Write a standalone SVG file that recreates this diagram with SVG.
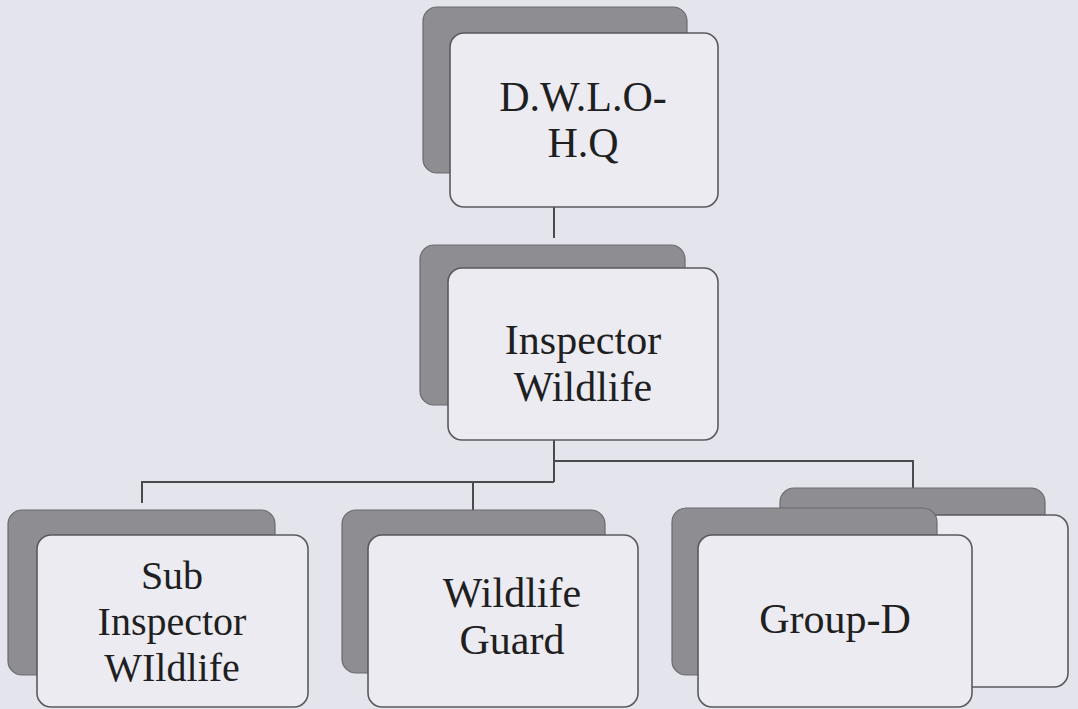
<svg xmlns="http://www.w3.org/2000/svg" width="1078" height="709" viewBox="0 0 1078 709">
<style>
.bg{fill:#e4e4ec}
.shadow{fill:#8d8d92;stroke:#6a6a6e;stroke-width:1.2}
.card{fill:#ebebf1;stroke:#5a5a5e;stroke-width:1.6}
.lbl{font-family:"Liberation Serif","Times New Roman",serif;font-size:42px;fill:#1f1f22;text-anchor:middle}
.sm{font-size:40px}
.conn{fill:none;stroke:#4a4a4e;stroke-width:2}
</style>
<rect class="bg" x="0" y="0" width="1078" height="709"/>
<g id="connectors">
<path class="conn" d="M554 207 V238"/>
<path class="conn" d="M554 440 V482 M554 461 H913 V488 M142 503 V482 H554 M473 482 V510"/>
</g>
<g id="node-dwlo">
<rect class="shadow" x="423" y="7" width="264" height="166" rx="14"/>
<rect class="card" x="450" y="33" width="268" height="174" rx="14"/>
<text class="lbl" x="583" y="111">D.W.L.O-</text>
<text class="lbl" x="583" y="157">H.Q</text>
</g>
<g id="node-inspector">
<rect class="shadow" x="420" y="245" width="265" height="160" rx="14"/>
<rect class="card" x="448" y="268" width="270" height="172" rx="14"/>
<text class="lbl" x="583" y="354">Inspector</text>
<text class="lbl" x="583" y="401">Wildlife</text>
</g>
<g id="node-sub-inspector">
<rect class="shadow" x="8" y="510" width="267" height="165" rx="14"/>
<rect class="card" x="37" y="535" width="271" height="172" rx="14"/>
<text class="lbl sm" x="172" y="589">Sub</text>
<text class="lbl sm" x="172" y="635">Inspector</text>
<text class="lbl sm" x="172" y="681">WIldlife</text>
</g>
<g id="node-wildlife-guard">
<rect class="shadow" x="342" y="510" width="263" height="163" rx="14"/>
<rect class="card" x="368" y="535" width="270" height="172" rx="14"/>
<text class="lbl" x="512" y="607">Wildlife</text>
<text class="lbl" x="512" y="654">Guard</text>
</g>
<g id="node-group-d">
<rect class="shadow" x="780" y="488" width="265" height="140" rx="14"/>
<rect class="card" x="805" y="515" width="263" height="172" rx="14"/>
<rect class="shadow" x="672" y="508" width="265" height="167" rx="14"/>
<rect class="card" x="698" y="535" width="274" height="172" rx="14"/>
<text class="lbl" x="835" y="633">Group-D</text>
</g>
</svg>
